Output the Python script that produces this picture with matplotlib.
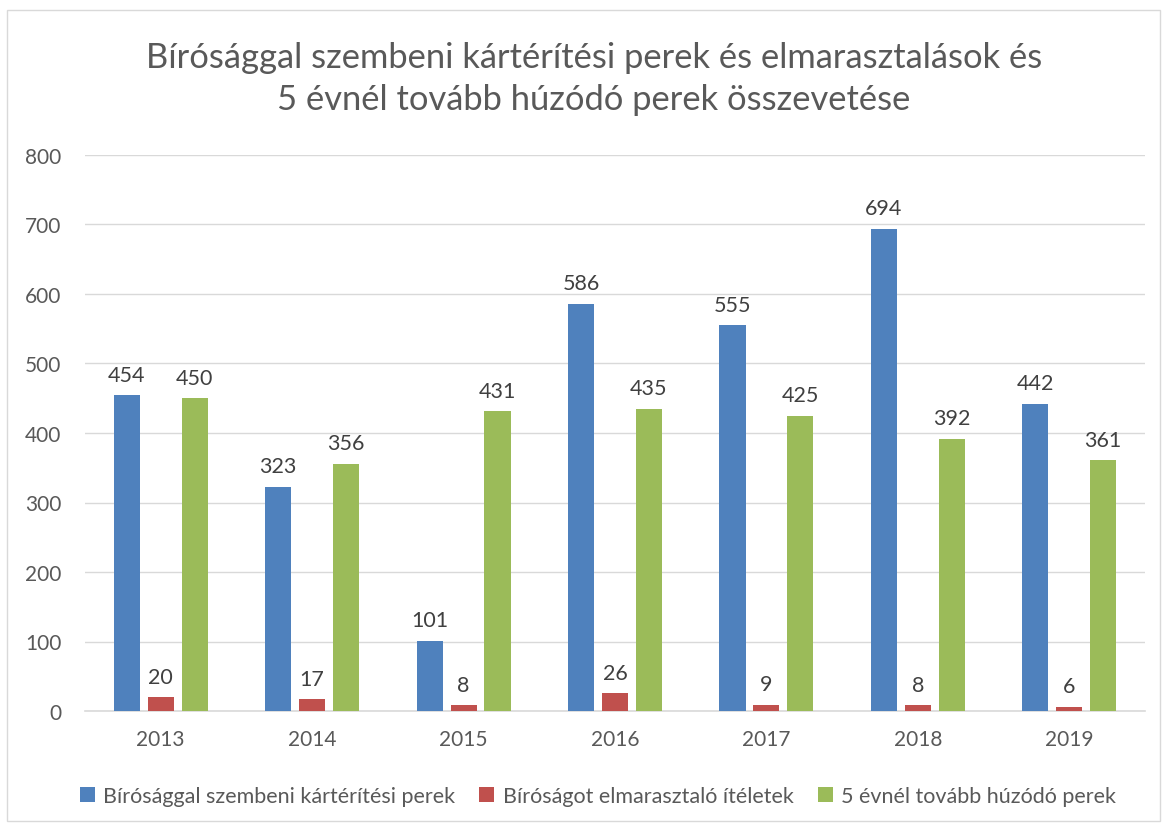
import matplotlib
matplotlib.use("Agg")
import matplotlib.pyplot as plt
import numpy as np
from matplotlib.patches import Rectangle

years = ["2013", "2014", "2015", "2016", "2017", "2018", "2019"]
series_names = ["Bírósággal szembeni kártérítési perek",
                "Bíróságot elmarasztaló ítéletek",
                "5 évnél tovább húzódó perek"]
perek = [454, 323, 101, 586, 555, 694, 442]
itelet = [20, 17, 8, 26, 9, 8, 6]
huzodo = [450, 356, 431, 435, 425, 392, 361]
colors = ["#4F81BD", "#C0504D", "#9BBB59"]
title = "Bírósággal szembeni kártérítési perek és elmarasztalások és\n5 évnél tovább húzódó perek összevetése"

plt.rcParams['font.family'] = ['Lato', 'DejaVu Sans']
txt = "#595959"

fig = plt.figure(figsize=(11.66, 8.28), dpi=100)
W, H = 1166, 828
ax = fig.add_axes([85 / W, 1 - 712 / H, (1145 - 85) / W, (712 - 156) / H])

x = np.arange(len(years))
bw = 0.172
off = 0.224
for i, (vals, c, name) in enumerate(zip([perek, itelet, huzodo], colors, series_names)):
    bars = ax.bar(x + (i - 1) * off, vals, bw, color=c, label=name, zorder=3)
    for b, v in zip(bars, vals):
        ax.text(b.get_x() + b.get_width() / 2, v + 15, str(v), ha="center", va="bottom",
                fontsize=15.5, color="#404040")

ax.set_xlim(-0.5, len(years) - 0.5)
ax.set_ylim(0, 800)
ax.set_yticks(range(0, 801, 100))
ax.set_xticks(x)
ax.set_xticklabels(years)
ax.yaxis.grid(True, color="#D9D9D9", linewidth=1, zorder=0)
for s in ["top", "right", "left"]:
    ax.spines[s].set_visible(False)
ax.spines["bottom"].set_color("#D9D9D9")
ax.spines["bottom"].set_linewidth(1.2)
ax.tick_params(axis="both", length=0, labelsize=15, colors=txt)
ax.tick_params(axis="x", pad=13)
ax.tick_params(axis="y", pad=17)

fig.text(594 / W, 1 - 79 / H, title, ha="center", va="center", fontsize=24.8,
         color=txt, linespacing=1.38)

leg = fig.legend(loc="center", bbox_to_anchor=(598 / W, 1 - 797 / H), ncol=3,
                 frameon=False, fontsize=15.5, handlelength=0.7, handleheight=0.7,
                 handletextpad=0.4, columnspacing=1.1)
for t in leg.get_texts():
    t.set_color(txt)

fig.patches.append(Rectangle((7 / W, 1 - 822 / H), (1160 - 7) / W, (822 - 11) / H,
                             transform=fig.transFigure, fill=False,
                             edgecolor="#D9D9D9", linewidth=1))

fig.savefig("out.png", dpi=100, facecolor="white")
